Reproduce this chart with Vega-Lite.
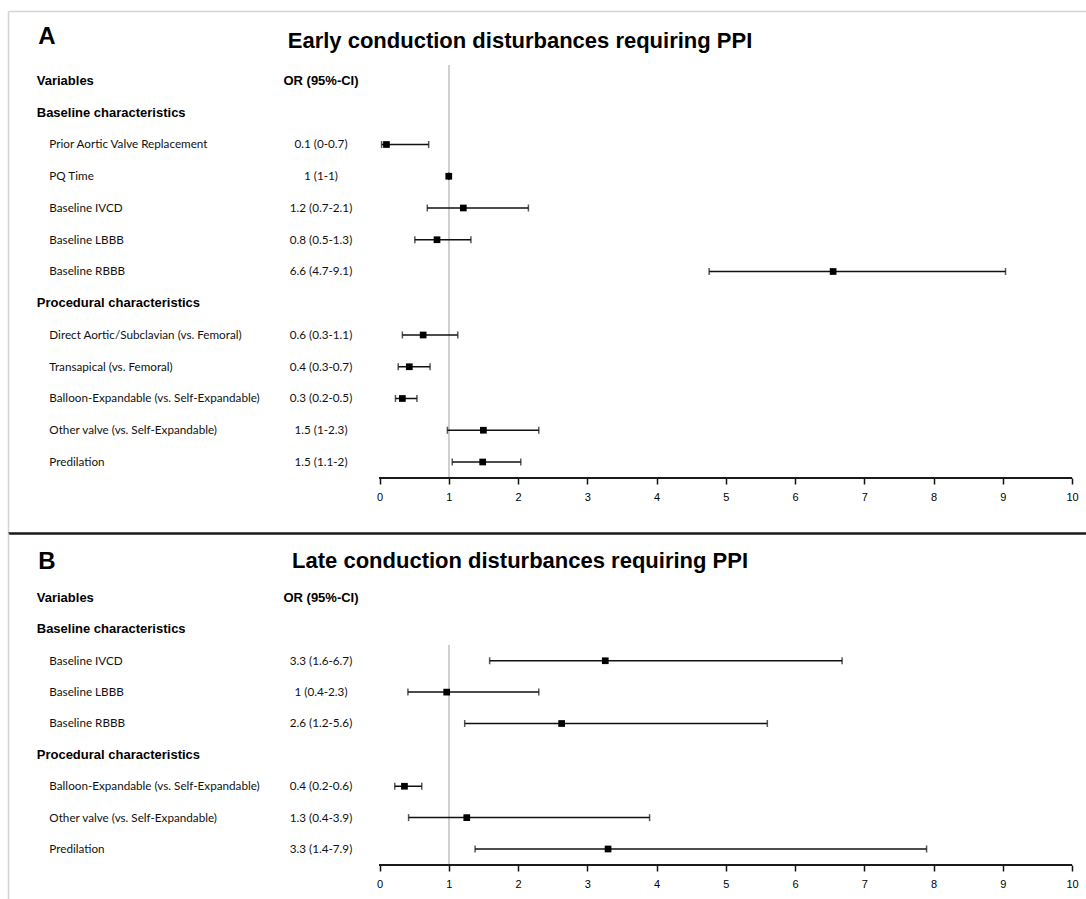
{
  "$schema": "https://vega.github.io/schema/vega-lite/v6.json",
  "padding": {"left": 8, "top": 11, "right": 0, "bottom": 0},
  "background": "white",
  "spacing": 0,
  "config": {"view": {"stroke": null}},
  "datasets": {
    "early": [
      {"label": "A", "kind": "title", "title": "Early conduction disturbances requiring PPI"},
      {"label": "Variables", "kind": "head", "or": "OR (95%-CI)"},
      {"label": "Baseline characteristics", "kind": "section"},
      {"label": "Prior Aortic Valve Replacement", "kind": "item", "or": "0.1 (0-0.7)", "est": 0.1, "lo": 0.03, "hi": 0.71},
      {"label": "PQ Time", "kind": "item", "or": "1 (1-1)", "est": 1.0, "lo": 1.0, "hi": 1.0},
      {"label": "Baseline IVCD", "kind": "item", "or": "1.2 (0.7-2.1)", "est": 1.21, "lo": 0.69, "hi": 2.15},
      {"label": "Baseline LBBB", "kind": "item", "or": "0.8 (0.5-1.3)", "est": 0.83, "lo": 0.51, "hi": 1.32},
      {"label": "Baseline RBBB", "kind": "item", "or": "6.6 (4.7-9.1)", "est": 6.55, "lo": 4.76, "hi": 9.04},
      {"label": "Procedural characteristics", "kind": "section"},
      {"label": "Direct Aortic/Subclavian (vs. Femoral)", "kind": "item", "or": "0.6 (0.3-1.1)", "est": 0.63, "lo": 0.33, "hi": 1.13},
      {"label": "Transapical (vs. Femoral)", "kind": "item", "or": "0.4 (0.3-0.7)", "est": 0.43, "lo": 0.27, "hi": 0.73},
      {"label": "Balloon-Expandable (vs. Self-Expandable)", "kind": "item", "or": "0.3 (0.2-0.5)", "est": 0.33, "lo": 0.23, "hi": 0.54},
      {"label": "Other valve (vs. Self-Expandable)", "kind": "item", "or": "1.5 (1-2.3)", "est": 1.5, "lo": 0.98, "hi": 2.3},
      {"label": "Predilation", "kind": "item", "or": "1.5 (1.1-2)", "est": 1.49, "lo": 1.05, "hi": 2.04}
    ],
    "late": [
      {"label": "B", "kind": "title", "title": "Late conduction disturbances requiring PPI"},
      {"label": "Variables", "kind": "head", "or": "OR (95%-CI)"},
      {"label": "Baseline characteristics", "kind": "section"},
      {"label": "Baseline IVCD", "kind": "item", "or": "3.3 (1.6-6.7)", "est": 3.26, "lo": 1.59, "hi": 6.68},
      {"label": "Baseline LBBB", "kind": "item", "or": "1 (0.4-2.3)", "est": 0.97, "lo": 0.41, "hi": 2.3},
      {"label": "Baseline RBBB", "kind": "item", "or": "2.6 (1.2-5.6)", "est": 2.63, "lo": 1.23, "hi": 5.6},
      {"label": "Procedural characteristics", "kind": "section"},
      {"label": "Balloon-Expandable (vs. Self-Expandable)", "kind": "item", "or": "0.4 (0.2-0.6)", "est": 0.36, "lo": 0.22, "hi": 0.61},
      {"label": "Other valve (vs. Self-Expandable)", "kind": "item", "or": "1.3 (0.4-3.9)", "est": 1.26, "lo": 0.42, "hi": 3.9},
      {"label": "Predilation", "kind": "item", "or": "3.3 (1.4-7.9)", "est": 3.3, "lo": 1.38, "hi": 7.9}
    ]
  },
  "vconcat": [
    {
      "width": 1078,
      "height": 522,
      "data": {"name": "early"},
      "encoding": {
        "y": {
          "field": "label", "type": "nominal",
          "scale": {
            "domain": ["A", "Variables", "Baseline characteristics", "Prior Aortic Valve Replacement", "PQ Time", "Baseline IVCD", "Baseline LBBB", "Baseline RBBB", "Procedural characteristics", "Direct Aortic/Subclavian (vs. Femoral)", "Transapical (vs. Femoral)", "Balloon-Expandable (vs. Self-Expandable)", "Other valve (vs. Self-Expandable)", "Predilation", " "],
            "paddingInner": 0, "paddingOuter": 0.7205, "align": 0.489
          },
          "axis": {"domain": true, "domainColor": "#d4d4d4", "domainWidth": 1.5, "labels": false, "ticks": false, "grid": false, "title": null}
        }
      },
      "resolve": {"axis": {"x": "independent"}},
      "layer": [
        {
          "mark": {"type": "rule", "color": "#d0d0d0", "strokeWidth": 1.5},
          "encoding": {
            "x": {"datum": 1, "type": "quantitative", "scale": {"domain": [-5.365, 10.202], "nice": false, "zero": false},
                  "axis": {"orient": "top", "domain": true, "domainColor": "#d4d4d4", "domainWidth": 1.5, "labels": false, "ticks": false, "grid": false, "title": null}},
            "y": {"datum": "Variables", "type": "nominal", "bandPosition": 0},
            "y2": {"datum": "Predilation", "bandPosition": 1}
          }
        },
        {
          "mark": {"type": "rule", "color": "#1a1a1a", "strokeWidth": 1.5},
          "encoding": {
            "x": {"datum": 0, "type": "quantitative", "axis": null},
            "x2": {"datum": 10},
            "y": {"datum": "Predilation", "type": "nominal", "bandPosition": 1}
          }
        },
        {
          "transform": [{"filter": "datum.kind === 'title'"}],
          "mark": {"type": "text", "align": "left", "baseline": "middle", "font": "Liberation Sans", "fontSize": 24, "fontWeight": "bold", "color": "#000", "dy": -12.5},
          "encoding": {"x": {"datum": -4.927, "type": "quantitative", "axis": null}, "text": {"field": "label"}}
        },
        {
          "transform": [{"filter": "datum.kind === 'title'"}],
          "mark": {"type": "text", "align": "center", "baseline": "middle", "font": "Liberation Sans", "fontSize": 22, "fontWeight": "bold", "color": "#000", "dy": -8.5},
          "encoding": {"x": {"datum": 2.029, "type": "quantitative", "axis": null}, "text": {"field": "title"}}
        },
        {
          "transform": [{"filter": "datum.kind === 'head' || datum.kind === 'section'"}],
          "mark": {"type": "text", "align": "left", "baseline": "middle", "font": "Liberation Sans", "fontSize": 13, "fontWeight": "bold", "color": "#000"},
          "encoding": {"x": {"datum": -4.95, "type": "quantitative", "axis": null}, "text": {"field": "label"}}
        },
        {
          "transform": [{"filter": "datum.kind === 'head'"}],
          "mark": {"type": "text", "align": "center", "baseline": "middle", "font": "Liberation Sans", "fontSize": 13, "fontWeight": "bold", "color": "#000"},
          "encoding": {"x": {"datum": -0.845, "type": "quantitative", "axis": null}, "text": {"field": "or"}}
        },
        {
          "transform": [{"filter": "datum.kind === 'item'"}],
          "mark": {"type": "text", "align": "left", "baseline": "middle", "font": "Lato", "fontSize": 11.7, "color": "#111"},
          "encoding": {"x": {"datum": -4.768, "type": "quantitative", "axis": null}, "text": {"field": "label"}}
        },
        {
          "transform": [{"filter": "datum.kind === 'item'"}],
          "mark": {"type": "text", "align": "center", "baseline": "middle", "font": "Lato", "fontSize": 11.7, "color": "#111"},
          "encoding": {"x": {"datum": -0.845, "type": "quantitative", "axis": null}, "text": {"field": "or"}}
        },
        {
          "transform": [{"filter": "datum.kind === 'item'"}],
          "mark": {"type": "rule", "color": "#111", "strokeWidth": 1.5},
          "encoding": {
            "x": {"field": "lo", "type": "quantitative",
                  "axis": {"orient": "bottom", "offset": -55, "values": [0, 1, 2, 3, 4, 5, 6, 7, 8, 9, 10], "format": "d", "domain": false, "ticks": true, "tickSize": 6, "tickWidth": 1.5, "tickColor": "#111", "labelFont": "Liberation Sans", "labelFontSize": 11, "labelColor": "#000", "labelPadding": 7, "grid": false, "title": null}},
            "x2": {"field": "hi"}
          }
        },
        {
          "transform": [{"filter": "datum.kind === 'item'"}],
          "mark": {"type": "tick", "color": "#111", "size": 7, "thickness": 1.5},
          "encoding": {"x": {"field": "lo", "type": "quantitative", "axis": null}}
        },
        {
          "transform": [{"filter": "datum.kind === 'item'"}],
          "mark": {"type": "tick", "color": "#111", "size": 7, "thickness": 1.5},
          "encoding": {"x": {"field": "hi", "type": "quantitative", "axis": null}}
        },
        {
          "transform": [{"filter": "datum.kind === 'item'"}],
          "mark": {"type": "square", "color": "#000", "filled": true, "size": 45, "opacity": 1},
          "encoding": {"x": {"field": "est", "type": "quantitative", "axis": null}}
        }
      ]
    },
    {
      "width": 1078,
      "height": 366,
      "data": {"name": "late"},
      "encoding": {
        "y": {
          "field": "label", "type": "nominal",
          "scale": {
            "domain": ["B", "Variables", "Baseline characteristics", "Baseline IVCD", "Baseline LBBB", "Baseline RBBB", "Procedural characteristics", "Balloon-Expandable (vs. Self-Expandable)", "Other valve (vs. Self-Expandable)", "Predilation"],
            "paddingInner": 0, "paddingOuter": 0.8327, "align": 0.3433
          },
          "axis": {"domain": true, "domainColor": "#d4d4d4", "domainWidth": 1.5, "labels": false, "ticks": false, "grid": false, "title": null}
        }
      },
      "resolve": {"axis": {"x": "independent"}},
      "layer": [
        {
          "mark": {"type": "rule", "color": "#d0d0d0", "strokeWidth": 1.5},
          "encoding": {
            "x": {"datum": 1, "type": "quantitative", "scale": {"domain": [-5.365, 10.202], "nice": false, "zero": false},
                  "axis": {"orient": "top", "domain": true, "domainColor": "#1a1a1a", "domainWidth": 2.5, "labels": false, "ticks": false, "grid": false, "title": null}},
            "y": {"datum": "Baseline IVCD", "type": "nominal", "bandPosition": 0},
            "y2": {"datum": "Predilation", "bandPosition": 1}
          }
        },
        {
          "mark": {"type": "rule", "color": "#1a1a1a", "strokeWidth": 1.5},
          "encoding": {
            "x": {"datum": 0, "type": "quantitative", "axis": null},
            "x2": {"datum": 10},
            "y": {"datum": "Predilation", "type": "nominal", "bandPosition": 1}
          }
        },
        {
          "transform": [{"filter": "datum.kind === 'title'"}],
          "mark": {"type": "text", "align": "left", "baseline": "middle", "font": "Liberation Sans", "fontSize": 24, "fontWeight": "bold", "color": "#000", "dy": -5},
          "encoding": {"x": {"datum": -4.927, "type": "quantitative", "axis": null}, "text": {"field": "label"}}
        },
        {
          "transform": [{"filter": "datum.kind === 'title'"}],
          "mark": {"type": "text", "align": "center", "baseline": "middle", "font": "Liberation Sans", "fontSize": 22, "fontWeight": "bold", "color": "#000", "dy": -5.5},
          "encoding": {"x": {"datum": 2.029, "type": "quantitative", "axis": null}, "text": {"field": "title"}}
        },
        {
          "transform": [{"filter": "datum.kind === 'head' || datum.kind === 'section'"}],
          "mark": {"type": "text", "align": "left", "baseline": "middle", "font": "Liberation Sans", "fontSize": 13, "fontWeight": "bold", "color": "#000"},
          "encoding": {"x": {"datum": -4.95, "type": "quantitative", "axis": null}, "text": {"field": "label"}}
        },
        {
          "transform": [{"filter": "datum.kind === 'head'"}],
          "mark": {"type": "text", "align": "center", "baseline": "middle", "font": "Liberation Sans", "fontSize": 13, "fontWeight": "bold", "color": "#000"},
          "encoding": {"x": {"datum": -0.845, "type": "quantitative", "axis": null}, "text": {"field": "or"}}
        },
        {
          "transform": [{"filter": "datum.kind === 'item'"}],
          "mark": {"type": "text", "align": "left", "baseline": "middle", "font": "Lato", "fontSize": 11.7, "color": "#111"},
          "encoding": {"x": {"datum": -4.768, "type": "quantitative", "axis": null}, "text": {"field": "label"}}
        },
        {
          "transform": [{"filter": "datum.kind === 'item'"}],
          "mark": {"type": "text", "align": "center", "baseline": "middle", "font": "Lato", "fontSize": 11.7, "color": "#111"},
          "encoding": {"x": {"datum": -0.845, "type": "quantitative", "axis": null}, "text": {"field": "or"}}
        },
        {
          "transform": [{"filter": "datum.kind === 'item'"}],
          "mark": {"type": "rule", "color": "#111", "strokeWidth": 1.5},
          "encoding": {
            "x": {"field": "lo", "type": "quantitative",
                  "axis": {"orient": "bottom", "offset": -34, "values": [0, 1, 2, 3, 4, 5, 6, 7, 8, 9, 10], "format": "d", "domain": false, "ticks": true, "tickSize": 6, "tickWidth": 1.5, "tickColor": "#111", "labelFont": "Liberation Sans", "labelFontSize": 11, "labelColor": "#000", "labelPadding": 7, "grid": false, "title": null}},
            "x2": {"field": "hi"}
          }
        },
        {
          "transform": [{"filter": "datum.kind === 'item'"}],
          "mark": {"type": "tick", "color": "#111", "size": 7, "thickness": 1.5},
          "encoding": {"x": {"field": "lo", "type": "quantitative", "axis": null}}
        },
        {
          "transform": [{"filter": "datum.kind === 'item'"}],
          "mark": {"type": "tick", "color": "#111", "size": 7, "thickness": 1.5},
          "encoding": {"x": {"field": "hi", "type": "quantitative", "axis": null}}
        },
        {
          "transform": [{"filter": "datum.kind === 'item'"}],
          "mark": {"type": "square", "color": "#000", "filled": true, "size": 45, "opacity": 1},
          "encoding": {"x": {"field": "est", "type": "quantitative", "axis": null}}
        }
      ]
    }
  ]
}
